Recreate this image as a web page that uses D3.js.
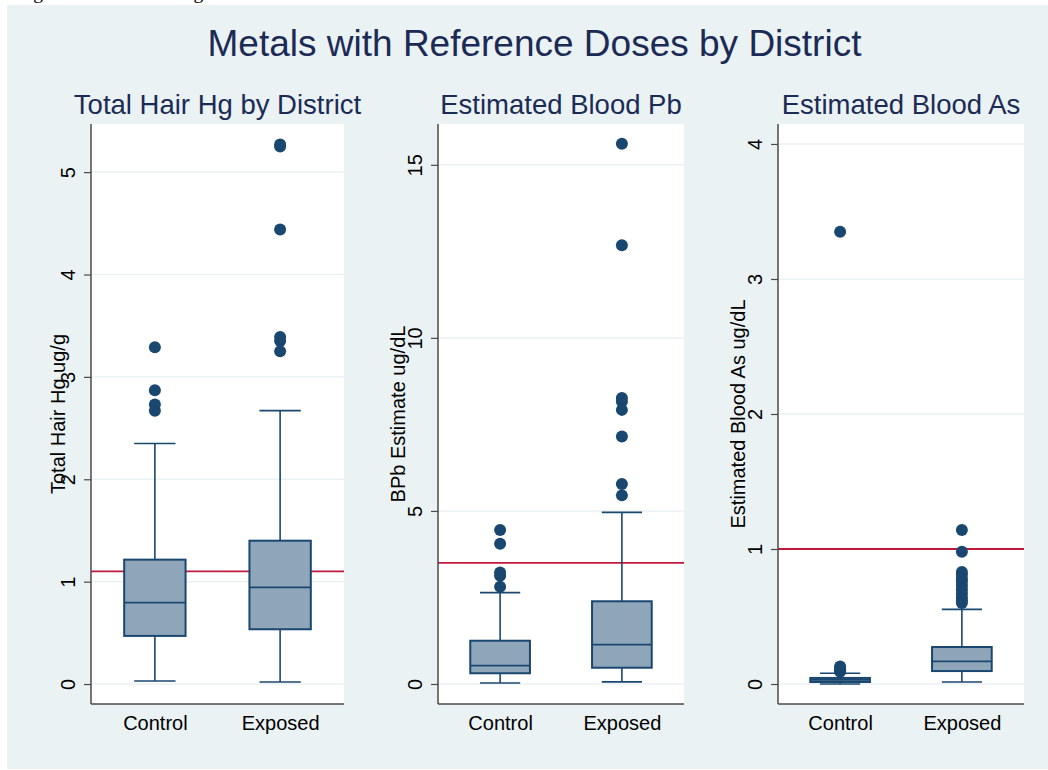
<!DOCTYPE html>
<html>
<head>
<meta charset="utf-8">
<script src="https://cdn.jsdelivr.net/npm/d3@7"></script>
<style>
  html, body { margin: 0; padding: 0; background: #ffffff; }
  svg { display: block; }
  text { font-family: "Liberation Sans", Arial, sans-serif; }
</style>
</head>
<body>
<svg id="chart" width="1048" height="770"></svg>
<script>
// Groups on every x axis
const groups = ["Control", "Exposed"];

// Box statistics: [lower whisker, Q1, median, Q3, upper whisker]
const hgControlStats = [0.03, 0.47, 0.795, 1.215, 2.35];
const hgExposedStats = [0.02, 0.535, 0.945, 1.40, 2.67];
const hgControlOutliers = [2.67, 2.73, 2.87, 3.29];
const hgExposedOutliers = [3.25, 3.35, 3.39, 4.44, 5.25, 5.27];
const hgReference = 1.1;
const hgTicks = [0, 1, 2, 3, 4, 5];

const pbControlStats = [0.03, 0.31, 0.53, 1.25, 2.64];
const pbExposedStats = [0.06, 0.47, 1.14, 2.39, 4.96];
const pbControlOutliers = [2.81, 3.13, 3.22, 4.05, 4.45];
const pbExposedOutliers = [5.45, 5.78, 7.15, 7.92, 8.16, 8.26, 12.68, 15.61];
const pbReference = 3.5;
const pbTicks = [0, 5, 10, 15];

const asControlStats = [0.0, 0.015, 0.03, 0.045, 0.08];
const asExposedStats = [0.015, 0.096, 0.168, 0.274, 0.553];
const asControlOutliers = [0.09, 0.10, 0.11, 0.12, 0.13, 3.35];
const asExposedOutliers = [0.60, 0.62, 0.64, 0.67, 0.70, 0.73, 0.76, 0.78, 0.81, 0.83, 0.98, 1.14];
const asReference = 1.0;
const asTicks = [0, 1, 2, 3, 4];

const panelTitles = ["Total Hair Hg by District", "Estimated Blood Pb", "Estimated Blood As"];
const yTitles = ["Total Hair Hg ug/g", "BPb Estimate ug/dL", "Estimated Blood As ug/dL"];

// Layout and styling
const navy = "#1a476f";
const boxFill = "#8fa5ba";
const refColor = "#c0183c";
const gridColor = "#eaf2f3";
const titleColor = "#1c2b56";
const plotTop = 124, plotBottom = 704;

const panels = [
  { title: panelTitles[0], yTitle: yTitles[0], stats: [hgControlStats, hgExposedStats],
    outliers: [hgControlOutliers, hgExposedOutliers], ref: hgReference, ticks: hgTicks,
    domain: [-0.195, 5.47], x0: 91, x1: 344, yTitleX: 65 },
  { title: panelTitles[1], yTitle: yTitles[1], stats: [pbControlStats, pbExposedStats],
    outliers: [pbControlOutliers, pbExposedOutliers], ref: pbReference, ticks: pbTicks,
    domain: [-0.578, 16.18], x0: 438, x1: 684, yTitleX: 405 },
  { title: panelTitles[2], yTitle: yTitles[2], stats: [asControlStats, asExposedStats],
    outliers: [asControlOutliers, asExposedOutliers], ref: asReference, ticks: asTicks,
    domain: [-0.148, 4.148], x0: 778, x1: 1024, yTitleX: 745 }
];

const svg = d3.select("#chart");

// Caption line running in from above the figure
svg.append("text")
  .attr("x", 17).attr("y", -1)
  .style("font-family", "'Liberation Serif', 'Times New Roman', serif")
  .style("font-size", "19.5px")
  .attr("fill", "#000")
  .text("Figure 3. Metals among districts");

// Graph region background
svg.append("rect")
  .attr("x", 7).attr("y", 5).attr("width", 1041).attr("height", 764)
  .attr("fill", "#eaf2f3");

// Overall title
svg.append("text")
  .attr("x", 534.5).attr("y", 56)
  .attr("text-anchor", "middle")
  .attr("fill", titleColor)
  .style("font-size", "37px")
  .text("Metals with Reference Doses by District");

panels.forEach(p => {
  const g = svg.append("g");

  const x = d3.scalePoint().domain(groups).range([p.x0, p.x1]).padding(0.51);
  const y = d3.scaleLinear().domain(p.domain).range([plotBottom, plotTop]);
  const step = x.step();
  const boxW = step * 0.49;
  const capW = step * 0.33;

  // Plot region
  g.append("rect")
    .attr("x", p.x0).attr("y", plotTop)
    .attr("width", p.x1 - p.x0).attr("height", plotBottom - plotTop)
    .attr("fill", "#ffffff");

  // Horizontal grid
  g.selectAll("line.grid").data(p.ticks).join("line")
    .attr("class", "grid")
    .attr("x1", p.x0).attr("x2", p.x1)
    .attr("y1", d => y(d)).attr("y2", d => y(d))
    .attr("stroke", gridColor).attr("stroke-width", 1.5);

  // Reference dose line
  g.append("line")
    .attr("x1", p.x0).attr("x2", p.x1)
    .attr("y1", y(p.ref)).attr("y2", y(p.ref))
    .attr("stroke", refColor).attr("stroke-width", 1.8);

  // Boxes
  groups.forEach((grp, i) => {
    const [lo, q1, med, q3, hi] = p.stats[i];
    const cx = x(grp);
    const bg = g.append("g");
    // whiskers
    bg.append("line").attr("x1", cx).attr("x2", cx).attr("y1", y(q3)).attr("y2", y(hi))
      .attr("stroke", navy).attr("stroke-width", 1.6);
    bg.append("line").attr("x1", cx).attr("x2", cx).attr("y1", y(q1)).attr("y2", y(lo))
      .attr("stroke", navy).attr("stroke-width", 1.6);
    // caps
    [lo, hi].forEach(v => {
      bg.append("line").attr("x1", cx - capW / 2).attr("x2", cx + capW / 2)
        .attr("y1", y(v)).attr("y2", y(v))
        .attr("stroke", navy).attr("stroke-width", 1.6);
    });
    // box
    bg.append("rect")
      .attr("x", cx - boxW / 2).attr("y", y(q3))
      .attr("width", boxW).attr("height", y(q1) - y(q3))
      .attr("fill", boxFill).attr("stroke", navy).attr("stroke-width", 2);
    // median
    bg.append("line").attr("x1", cx - boxW / 2).attr("x2", cx + boxW / 2)
      .attr("y1", y(med)).attr("y2", y(med))
      .attr("stroke", navy).attr("stroke-width", 1.8);
    // outliers
    bg.selectAll("circle").data(p.outliers[i]).join("circle")
      .attr("cx", cx).attr("cy", d => y(d)).attr("r", 6)
      .attr("fill", navy);
  });

  // Y axis
  const yAxis = g.append("g")
    .attr("transform", `translate(${p.x0},0)`)
    .call(d3.axisLeft(y).tickValues(p.ticks).tickSize(7).tickFormat(d3.format("d")));
  yAxis.select(".domain").attr("d", `M0,${plotTop}V${plotBottom}`)
    .attr("stroke", "#4a4a4a").attr("stroke-width", 1.5);
  yAxis.selectAll(".tick line").attr("stroke", "#4a4a4a").attr("stroke-width", 1.2);
  yAxis.selectAll(".tick text")
    .attr("x", null).attr("dy", null)
    .attr("transform", "translate(-16,0) rotate(-90)")
    .attr("text-anchor", "middle")
    .attr("fill", "#000")
    .style("font-size", "20px")
    .style("font-family", "'Liberation Sans', Arial, sans-serif");

  // X axis
  const xAxis = g.append("g")
    .attr("transform", `translate(0,${plotBottom})`)
    .call(d3.axisBottom(x).tickSize(0));
  xAxis.select(".domain").attr("d", `M${p.x0},0H${p.x1}`)
    .attr("stroke", "#4a4a4a").attr("stroke-width", 1.5);
  xAxis.selectAll(".tick text")
    .attr("y", 26).attr("dy", null)
    .attr("fill", "#000")
    .style("font-size", "20px")
    .style("font-family", "'Liberation Sans', Arial, sans-serif");

  // Y axis title
  g.append("text")
    .attr("transform", `translate(${p.yTitleX},${(plotTop + plotBottom) / 2}) rotate(-90)`)
    .attr("text-anchor", "middle")
    .attr("fill", "#000")
    .style("font-size", "20px")
    .text(p.yTitle);

  // Panel title
  g.append("text")
    .attr("x", (p.x0 + p.x1) / 2).attr("y", 114)
    .attr("text-anchor", "middle")
    .attr("fill", titleColor)
    .style("font-size", "27.5px")
    .text(p.title);
});
</script>
</body>
</html>
